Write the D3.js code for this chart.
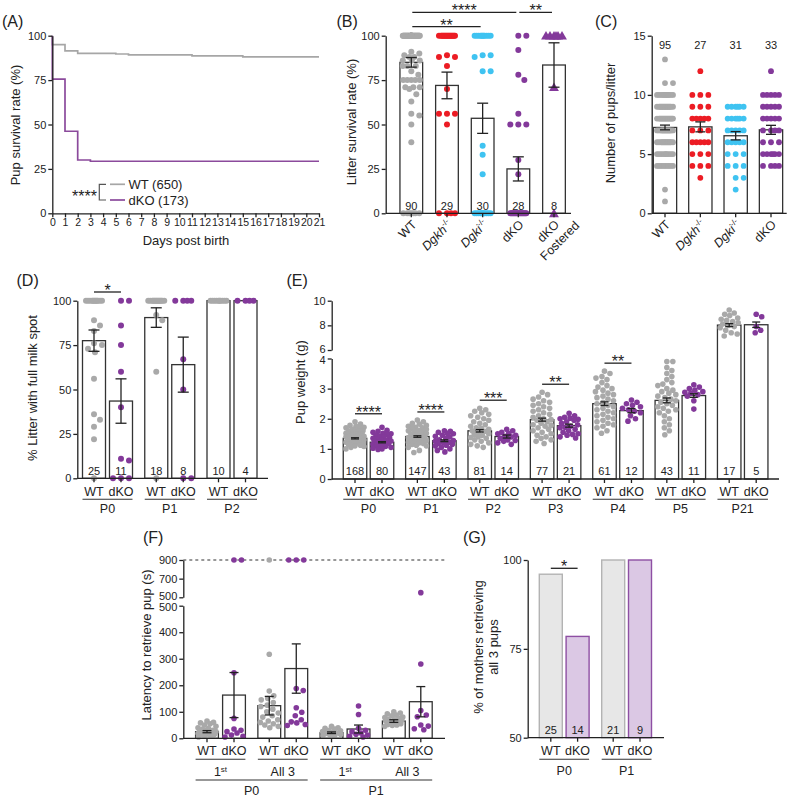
<!DOCTYPE html>
<html><head><meta charset="utf-8">
<script src="https://cdn.jsdelivr.net/npm/d3@7"></script>
<style>
body{margin:0;background:#fff}
svg{display:block}
text{font-family:"Liberation Sans",Arial,Helvetica,sans-serif;fill:#222}
</style>
</head><body>
<svg id="c" width="800" height="799"></svg>
<script>
// ================= DATA =================
// Panel A: Kaplan-Meier pup survival
const aDaysWT = [0,0,1,2,5,6,11,15,21];
const aSurvWT = [100,95,91.5,90,89.7,89.2,88.6,88.1,88.1];
const aDaysKO = [0,0,1,2,3,21];
const aSurvKO = [100,75.5,46.2,30,29.3,29.3];
const aLegend = ["WT (650)","dKO (173)"];
const aTicksY = [0,25,50,75,100];

// Panel B: litter survival rate
const bCats = ["WT","Dgkh","Dgki","dKO","dKO Fostered"];
const bMean = [85,72,53.5,25,83.5];
const bSem  = [2.7,7.5,8.5,6.8,12.5];
const bN    = [90,29,30,28,8];
const bDotsWT   = [[100,55],91,90,89,88,88,86,86,86,83,83,83,80,78,75,75,75,75,75,71,71,71,70,67,63,56,55,50,40,[0,7]];
const bDotsDgkh = [[100,16],89,88,88,83,70,56,56,56,50,[0,4]];
const bDotsDgki = [[100,11],89,89,88,80,80,38,33,22,[0,11]];
const bDotsKO   = [100,100,92,78,75,56,50,50,50,30,22,[0,17]];
const bDotsFost = [[100,6],71,0];
const bSig = [[0,3,"****",0],[0,2,"**",1],[3,4,"**",0]];

// Panel C: pups per litter
const cCats = ["WT","Dgkh","Dgki","dKO"];
const cMean = [7.25,7.3,6.55,7.05];
const cSem  = [0.2,0.42,0.35,0.38];
const cN    = [95,27,31,33];
const cDotsWT   = [[13,1],[11,2],[10,12],[9,15],[8,16],[7,14],[6,14],[5,10],[4,9],[2,1],[1,1]];
const cDotsDgkh = [[12,1],[10,3],[9,3],[8,5],[7,3],[6,5],[5,3],[4,3],[3,1]];
const cDotsDgki = [[9,6],[8,6],[7,5],[6,5],[5,3],[4,3],[3,2],[2,1]];
const cDotsKO   = [[12,1],[10,5],[9,5],[8,5],[7,4],[6,3],[5,6],[4,4]];

// Panel D: litter with full milk spot
const dGroups = ["P0","P1","P2"];
const dMeanWT = [77.5,90.5,100], dSemWT = [6,5.5,0], dNWT = [25,18,10];
const dMeanKO = [43.5,64,100],   dSemKO = [12.5,15.5,0], dNKO = [11,8,4];
const dDotsWT = [
  [[100,12],89,86,83,76,75,73,71,56,36,33,29,22,0],
  [[100,14],92,89,60,0],
  [[100,10]]
];
const dDotsKO = [
  [100,100,86,75,60,40,11,10,[0,3]],
  [[100,4],67,50,0,0],
  [[100,4]]
];
const dSig = [["P0","*"]];

// Panel E: pup weight
const eGroups = ["P0","P1","P2","P3","P4","P5","P21"];
const eMeanWT = [1.35,1.41,1.6,1.97,2.5,2.61,8.02];
const eSemWT  = [0.02,0.025,0.04,0.05,0.06,0.08,0.12];
const eMeanKO = [1.22,1.27,1.41,1.77,2.27,2.77,8.05];
const eSemKO  = [0.02,0.03,0.05,0.05,0.07,0.06,0.22];
const eNWT = [168,147,81,77,61,43,17];
const eNKO = [80,43,14,21,12,11,5];
const eDotsWT = [
  [1.9,1.82,1.78,1.75,1.72,1.7,1.68,1.65,1.62,1.6,1.6,1.58,1.55,1.55,1.52,1.5,1.5,1.48,1.45,1.45,1.42,1.4,1.4,1.38,1.36,1.35,1.33,1.3,1.3,1.28,1.25,1.25,1.22,1.2,1.2,1.18,1.15,1.12,1.1,1.08,1.05,1.0],
  [1.96,1.9,1.85,1.82,1.78,1.75,1.72,1.7,1.68,1.65,1.62,1.6,1.58,1.55,1.52,1.5,1.48,1.45,1.42,1.4,1.38,1.35,1.32,1.3,1.28,1.25,1.22,1.2,1.18,1.15,1.12,1.1,1.05,0.95,0.88],
  [2.35,2.3,2.25,2.2,2.15,2.1,2.05,2.0,1.95,1.9,1.85,1.8,1.75,1.7,1.68,1.65,1.6,1.58,1.55,1.5,1.48,1.45,1.4,1.38,1.35,1.3,1.25,1.2,1.15,1.1,1.05],
  [2.88,2.8,2.72,2.65,2.6,2.55,2.5,2.45,2.4,2.35,2.3,2.25,2.2,2.15,2.1,2.05,2.0,1.97,1.95,1.9,1.85,1.8,1.78,1.75,1.7,1.65,1.6,1.55,1.5,1.45,1.4,1.35,1.3,1.25,1.18],
  [3.58,3.5,3.4,3.35,3.3,3.2,3.1,3.05,3.0,2.95,2.9,2.85,2.8,2.75,2.7,2.65,2.6,2.55,2.5,2.45,2.4,2.35,2.3,2.25,2.2,2.15,2.1,2.05,2.0,1.95,1.9,1.85,1.8,1.75,1.7,1.6,1.52],
  [3.9,3.9,3.7,3.6,3.5,3.4,3.3,3.2,3.15,3.1,3.0,2.95,2.9,2.85,2.8,2.75,2.7,2.65,2.6,2.55,2.5,2.45,2.4,2.35,2.3,2.25,2.2,2.1,2.0,1.9,1.8,1.7,1.6,1.47],
  [9.24,9.0,8.9,8.8,8.6,8.5,8.4,8.3,8.2,8.1,8.0,7.9,7.8,7.6,7.4,7.3,7.14]
];
const eDotsKO = [
  [1.72,1.62,1.58,1.55,1.52,1.5,1.48,1.45,1.42,1.4,1.38,1.35,1.33,1.3,1.28,1.26,1.25,1.22,1.2,1.18,1.15,1.12,1.1,1.08,1.05,1.02,1.0,0.98],
  [1.6,1.58,1.55,1.52,1.5,1.45,1.42,1.4,1.35,1.3,1.28,1.25,1.22,1.2,1.18,1.15,1.12,1.1,1.05,1.0,0.95,0.9],
  [1.65,1.6,1.55,1.52,1.5,1.45,1.42,1.4,1.35,1.3,1.28,1.25,1.2,1.15],
  [2.18,2.1,2.05,2.02,2.0,1.98,1.95,1.9,1.85,1.8,1.75,1.72,1.7,1.65,1.6,1.55,1.5,1.48,1.45,1.4,1.36],
  [2.62,2.55,2.5,2.45,2.4,2.35,2.3,2.25,2.2,2.1,2.0,1.92],
  [3.13,3.05,3.0,2.95,2.9,2.88,2.85,2.8,2.75,2.6,2.32],
  [8.9,8.7,7.9,7.6,7.4]
];
const eSig = [["P0","****"],["P1","****"],["P2","***"],["P3","**"],["P4","**"]];
const eTicksLow = [0,1,2,3,4], eTicksHigh = [6,8,10];

// Panel F: latency to retrieve pup
const fSub = ["1st","All 3","1st","All 3"];
const fGroups = ["P0","P1"];
const fMeanWT = [25,123,21,65], fSemWT = [4,35,3,5];
const fMeanKO = [163,263,35,138], fSemKO = [85,93,15,57];
const fDotsWT = [
  [65,60,58,55,50,45,40,38,35,30,30,28,25,25,22,20,20,18,15,15,12,10,8,5],
  [900,317,178,160,150,145,135,125,120,110,100,95,85,80,70,65,60,55,50,45,40],
  [45,40,38,35,30,28,25,22,20,18,15,12,10,8],
  [100,95,92,88,85,80,78,75,72,70,68,65,62,60,58,55,52,50,48,45]
];
const fDotsKO = [
  [900,900,247,75,35,30,25,20,12,8,5],
  [900,900,900,188,180,115,98,85,70,62,58,52,48],
  [122,90,38,30,25,20,15,12,8,5],
  [550,280,105,88,81,50,46,36,32]
];
const fTicksLow = [0,100,200,300,400,500], fTicksHigh = [500,700,900];

// Panel G: % mothers retrieving all 3 pups
const gGroups = ["P0","P1"];
const gWT = [96,100], gKO = [78.5,100];
const gNWT = [25,21], gNKO = [14,9];
const gSig = [["P0","*"]];

// ================= DRAWING =================
const svg = d3.select("#c");
svg.append("rect").attr("width",800).attr("height",799).attr("fill","#fff");
const INK = "#222";
const COL = {WT:"#a9a9a9", Dgkh:"#ec1c24", Dgki:"#3fc3f1", dKO:"#83399a"};
const FONT = '"Liberation Sans", Arial, Helvetica, sans-serif';

function expand(arr){const o=[];arr.forEach(d=>{if(Array.isArray(d)){for(let i=0;i<d[1];i++)o.push(d[0]);}else o.push(d);});return o;}

function styleAxis(g){
  g.attr("font-family",FONT).attr("font-size",11);
  g.select(".domain").attr("stroke",INK).attr("stroke-width",1.3);
  g.selectAll(".tick line").attr("stroke",INK).attr("stroke-width",1.3);
  g.selectAll(".tick text").attr("fill",INK);
}
function yAxis(scale,ticks,x,nudge){
  const g=svg.append("g").attr("transform",`translate(${x},0)`)
    .call(d3.axisLeft(scale).tickValues(ticks).tickSize(4).tickSizeOuter(0).tickPadding(2).tickFormat(d3.format("d")));
  styleAxis(g);
  if(nudge) g.selectAll(".tick text").filter(d=>d===nudge[0]).attr("y",nudge[1]);
  return g;
}
function xBase(x0,x1,y,ticks){
  svg.append("line").attr("x1",x0).attr("x2",x1).attr("y1",y).attr("y2",y).attr("stroke",INK).attr("stroke-width",1.3);
  ticks.forEach(t=>svg.append("line").attr("x1",t).attr("x2",t).attr("y1",y).attr("y2",y+4).attr("stroke",INK).attr("stroke-width",1.3));
}
function txt(x,y,s,size,anchor){
  return svg.append("text").attr("x",x).attr("y",y).attr("text-anchor",anchor||"middle").style("font-size",(size||11)+"px").text(s);
}
function vtitle(s,x,y){
  svg.append("text").attr("transform",`translate(${x},${y}) rotate(-90)`).attr("text-anchor","middle").attr("dy","0.35em").style("font-size","13px").text(s);
}
function hline(x1,x2,y,w,col){
  svg.append("line").attr("x1",x1).attr("x2",x2).attr("y1",y).attr("y2",y).attr("stroke",col||INK).attr("stroke-width",w||1.2);
}
function sig(x1,x2,y,s){
  hline(x1,x2,y,1.3);
  txt((x1+x2)/2,y+4,s,16);
}
function bar(cx,w,yTop,y0,fill,stroke,sw){
  svg.append("rect").attr("x",cx-w/2).attr("y",yTop).attr("width",w).attr("height",Math.max(0,y0-yTop))
    .attr("fill",fill||"#fff").attr("stroke",stroke||"#333").attr("stroke-width",sw||1.3);
}
function errbar(cx,yf,m,s,cap){
  if(!s) return;
  const y1=yf(m-s), y2=yf(m+s);
  svg.append("line").attr("x1",cx).attr("x2",cx).attr("y1",y1).attr("y2",y2).attr("stroke",INK).attr("stroke-width",1.3);
  hline(cx-cap/2,cx+cap/2,y1,1.3); hline(cx-cap/2,cx+cap/2,y2,1.3);
}
function swarm(vals,yf,r,half,minD){
  const pts=vals.map(v=>({v,y:yf(v)})).sort((a,b)=>a.y-b.y);
  const cands=[0]; for(let d=0.5;d<=half+1e-9;d+=0.5){cands.push(d,-d);}
  const placed=[];
  pts.forEach(p=>{
    let best=0,bestScore=-1;
    for(const c of cands){
      let md=Infinity;
      for(const q of placed){const dy=q.y-p.y; if(Math.abs(dy)>=minD) continue; const dd=Math.hypot(q.dx-c,dy); if(dd<md) md=dd;}
      if(md>=minD){best=c;break;}
      if(md>bestScore+0.01){bestScore=md;best=c;}
    }
    p.dx=best; placed.push(p);
  });
  return pts;
}
function dots(vals,cx,yf,r,half,color,tri,gap){
  const g=(gap===undefined)?1.8:gap;
  const pts=swarm(expand(vals),yf,r,half,2*r+g);
  pts.forEach(p=>{
    if(tri) svg.append("path").attr("d",d3.symbol(d3.symbolTriangle,42)()).attr("transform",`translate(${cx+p.dx},${p.y+1})`).attr("fill",color);
    else svg.append("circle").attr("cx",cx+p.dx).attr("cy",p.y).attr("r",r).attr("fill",color);
  });
}
function panelLabel(s,x,y){txt(x,y,s,16,"start");}

// ---------- Panel A ----------
{
  const xA=d3.scaleLinear().domain([0,21]).range([52.3,319]);
  const yA=d3.scaleLinear().domain([0,100]).range([213.3,35.7]);
  const ln=d3.line().x(d=>xA(d[0])).y(d=>yA(d[1])).curve(d3.curveStepAfter);
  svg.append("path").datum(d3.zip(aDaysWT,aSurvWT)).attr("d",ln).attr("fill","none").attr("stroke","#a6a6a6").attr("stroke-width",1.7);
  svg.append("path").datum(d3.zip(aDaysKO,aSurvKO)).attr("d",ln).attr("fill","none").attr("stroke","#8b4a9c").attr("stroke-width",1.7);
  yAxis(yA,aTicksY,52.3);
  const gx=svg.append("g").attr("transform","translate(0,213.3)")
    .call(d3.axisBottom(xA).tickValues(d3.range(0,22)).tickSize(4).tickSizeOuter(0).tickPadding(1).tickFormat(d3.format("d")));
  styleAxis(gx); gx.attr("font-size",10.5);
  txt(186,244.5,"Days post birth",13);
  vtitle("Pup survival rate (%)",15,125);
  // legend
  hline(110,125,184.3,1.7,"#a6a6a6"); hline(110,125,200,1.7,"#8b4a9c");
  txt(128.5,188.8,aLegend[0],13,"start"); txt(128.5,204.5,aLegend[1],13,"start");
  svg.append("path").attr("d","M106,184.3H99.3V200H106").attr("fill","none").attr("stroke","#555").attr("stroke-width",1.2);
  txt(97,202,"****",16,"end");
  panelLabel("(A)",2,27);
}

// ---------- Panel B ----------
{
  const yB=d3.scaleLinear().domain([0,100]).range([213.3,35.7]);
  const xB=d3.scalePoint().domain(bCats).range([411.3,554]);
  const cols=[COL.WT,COL.Dgkh,COL.Dgki,COL.dKO,COL.dKO];
  const dd=[bDotsWT,bDotsDgkh,bDotsDgki,bDotsKO,bDotsFost];
  bCats.forEach((c,i)=>bar(xB(c),22.7,yB(bMean[i]),yB(0)));
  bCats.forEach((c,i)=>dots(dd[i],xB(c),yB,3,8.5,cols[i],i===4));
  bCats.forEach((c,i)=>errbar(xB(c),yB,bMean[i],bSem[i],11));
  bCats.forEach((c,i)=>txt(xB(c),209.6,bN[i],11));
  yAxis(yB,aTicksY,385.7);
  xBase(385.7,571,213.3,bCats.map(c=>xB(c)));
  const lev=[12.3,26.7];
  bSig.forEach(s=>sig(xB(bCats[s[0]])+1,xB(bCats[s[1]])-2,lev[s[3]],s[2]));
  vtitle("Litter survival rate (%)",351.7,122);
  const rl=(cx)=>svg.append("text").attr("transform",`translate(${cx+6},${225.3}) rotate(-45)`).attr("text-anchor","end").style("font-size","12.5px");
  rl(xB("WT")).text("WT");
  let t=rl(xB("Dgkh")); t.append("tspan").style("font-style","italic").text("Dgkh"); t.append("tspan").attr("dy",-5).style("font-size","8px").text("-/-");
  t=rl(xB("Dgki")); t.append("tspan").style("font-style","italic").text("Dgki"); t.append("tspan").attr("dy",-5).style("font-size","8px").text("-/-");
  rl(xB("dKO")).text("dKO");
  t=rl(xB("dKO Fostered")); t.append("tspan").attr("x",0).text("dKO"); t.append("tspan").attr("x",13.5).attr("dy",15).text("Fostered");
  panelLabel("(B)",336.5,27);
}

// ---------- Panel C ----------
{
  const yC=d3.scaleLinear().domain([0,15]).range([213.3,35.7]);
  const xC=d3.scalePoint().domain(cCats).range([665,771]);
  const cols=[COL.WT,COL.Dgkh,COL.Dgki,COL.dKO];
  const dd=[cDotsWT,cDotsDgkh,cDotsDgki,cDotsKO];
  cCats.forEach((c,i)=>bar(xC(c),23.3,yC(cMean[i]),yC(0)));
  cCats.forEach((c,i)=>dots(dd[i],xC(c),yC,2.9,8,cols[i]));
  cCats.forEach((c,i)=>errbar(xC(c),yC,cMean[i],cSem[i],10));
  cCats.forEach((c,i)=>txt(xC(c),49,cN[i],11));
  yAxis(yC,[0,5,10,15],651.7);
  xBase(651.7,786.7,213.3,cCats.map(c=>xC(c)));
  vtitle("Number of pups/litter",610.7,123);
  const rl=(cx)=>svg.append("text").attr("transform",`translate(${cx+6},${225.3}) rotate(-45)`).attr("text-anchor","end").style("font-size","12.5px");
  rl(xC("WT")).text("WT");
  let t=rl(xC("Dgkh")); t.append("tspan").style("font-style","italic").text("Dgkh"); t.append("tspan").attr("dy",-5).style("font-size","8px").text("-/-");
  t=rl(xC("Dgki")); t.append("tspan").style("font-style","italic").text("Dgki"); t.append("tspan").attr("dy",-5).style("font-size","8px").text("-/-");
  rl(xC("dKO")).text("dKO");
  panelLabel("(C)",595,27);
}

// ---------- Panel D ----------
{
  const yD=d3.scaleLinear().domain([0,100]).range([478.3,300.7]);
  const xD=d3.scalePoint().domain(dGroups).range([107.5,232]);
  const off=13.5, bw=23;
  const ticks=[];
  dGroups.forEach((g,i)=>{
    const cw=xD(g)-off, ck=xD(g)+off; ticks.push(cw,ck);
    bar(cw,bw,yD(dMeanWT[i]),yD(0)); bar(ck,bw,yD(dMeanKO[i]),yD(0));
  });
  dGroups.forEach((g,i)=>{
    dots(dDotsWT[i],xD(g)-off,yD,3,8.5,COL.WT);
    dots(dDotsKO[i],xD(g)+off,yD,3,8.5,COL.dKO);
  });
  dGroups.forEach((g,i)=>{
    errbar(xD(g)-off,yD,dMeanWT[i],dSemWT[i],11);
    errbar(xD(g)+off,yD,dMeanKO[i],dSemKO[i],11);
    txt(xD(g)-off,474.6,dNWT[i],11); txt(xD(g)+off,474.6,dNKO[i],11);
    txt(xD(g)-off,495.5,"WT",12.5); txt(xD(g)+off,495.5,"dKO",12.5);
    hline(xD(g)-off-bw/2,xD(g)+off+bw/2,499.3,1.1,"#333");
    txt(xD(g),513,g,12.5);
  });
  yAxis(yD,aTicksY,77.3);
  xBase(77.3,268,478.3,ticks);
  dSig.forEach(s=>sig(xD(s[0])-off,xD(s[0])+off,292,s[1]));
  vtitle("% Litter with full milk spot",32.3,388);
  panelLabel("(D)",16.5,286);
}

// ---------- Panel E ----------
{
  const yLow=d3.scaleLinear().domain([0,4]).range([479,358.5]);
  const yHigh=d3.scaleLinear().domain([6,10]).range([350,300.7]);
  const yE=v=>v<=5?yLow(v):yHigh(v);
  const xE=d3.scalePoint().domain(eGroups).range([368.5,742.7]);
  const off=13.5, bw=23.5;
  const ticks=[];
  eGroups.forEach((g,i)=>{
    ticks.push(xE(g)-off,xE(g)+off);
    bar(xE(g)-off,bw,yE(eMeanWT[i]),yE(0)); bar(xE(g)+off,bw,yE(eMeanKO[i]),yE(0));
  });
  eGroups.forEach((g,i)=>{
    dots(eDotsWT[i],xE(g)-off,yE,2.8,9,COL.WT,false,0.2);
    dots(eDotsKO[i],xE(g)+off,yE,2.8,9,COL.dKO,false,0.2);
  });
  eGroups.forEach((g,i)=>{
    errbar(xE(g)-off,yE,eMeanWT[i],eSemWT[i],8);
    errbar(xE(g)+off,yE,eMeanKO[i],eSemKO[i],8);
    txt(xE(g)-off,474.7,eNWT[i],11); txt(xE(g)+off,474.7,eNKO[i],11);
    txt(xE(g)-off,495.5,"WT",12.5); txt(xE(g)+off,495.5,"dKO",12.5);
    hline(xE(g)-off-bw/2,xE(g)+off+bw/2,499.3,1.1,"#333");
    txt(xE(g),513,g,12.5);
  });
  yAxis(yLow,eTicksLow,331.7,[4,1.5]);
  yAxis(yHigh,eTicksHigh,331.7,[6,-1.5]);
  xBase(331.7,779,479,ticks);
  eSig.forEach(s=>{
    const i=eGroups.indexOf(s[0]);
    const top=Math.max(d3.max(expand(eDotsWT[i])),d3.max(expand(eDotsKO[i])));
    sig(xE(s[0])-off,xE(s[0])+off,yE(top)-8,s[1]);
  });
  vtitle("Pup weight (g)",300,382);
  panelLabel("(E)",286.5,286);
}

// ---------- Panel F ----------
{
  const yLow=d3.scaleLinear().domain([0,500]).range([738.3,605.7]);
  const yHigh=d3.scaleLinear().domain([500,900]).range([597.3,560]);
  const yF=v=>v<=500?yLow(v):yHigh(v);
  const idx=d3.range(fSub.length);
  const xF=d3.scalePoint().domain(idx).range([220.5,407.3]);
  const off=13.5, bw=22.8;
  const ticks=[];
  idx.forEach(i=>{
    ticks.push(xF(i)-off,xF(i)+off);
    bar(xF(i)-off,bw,yF(fMeanWT[i]),yF(0)); bar(xF(i)+off,bw,yF(fMeanKO[i]),yF(0));
  });
  svg.append("line").attr("x1",183.3).attr("x2",445).attr("y1",yF(900)).attr("y2",yF(900))
    .attr("stroke","#333").attr("stroke-width",1.1).attr("stroke-dasharray","3,3");
  idx.forEach(i=>{
    dots(fDotsWT[i],xF(i)-off,yF,2.8,9,COL.WT,false,0.8);
    dots(fDotsKO[i],xF(i)+off,yF,2.8,9,COL.dKO,false,1.5);
  });
  idx.forEach(i=>{
    errbar(xF(i)-off,yF,fMeanWT[i],fSemWT[i],9);
    errbar(xF(i)+off,yF,fMeanKO[i],fSemKO[i],9);
    txt(xF(i)-off,754.5,"WT",12.5); txt(xF(i)+off,754.5,"dKO",12.5);
    hline(xF(i)-off-bw/2,xF(i)+off+bw/2,759.3,1.1,"#333");
    const s=fSub[i];
    if(s==="1st"){
      const t=txt(xF(i),776,"",12.5); t.append("tspan").text("1"); t.append("tspan").attr("dy",-4).style("font-size","8px").text("st");
    } else txt(xF(i),776,s,12.5);
  });
  fGroups.forEach((g,k)=>{
    const a=xF(2*k)-off-bw/2, b=xF(2*k+1)+off+bw/2;
    hline(a,b,780,1.1,"#333");
    txt((a+b)/2,795,g,12.5);
  });
  yAxis(yLow,fTicksLow,183.3,[500,1.6]);
  yAxis(yHigh,fTicksHigh,183.3,[500,-1.6]);
  xBase(183.3,445,738.3,ticks);
  vtitle("Latency to retrieve pup (s)",146.7,645);
  panelLabel("(F)",143,543);
}

// ---------- Panel G ----------
{
  const yG=d3.scaleLinear().domain([50,100]).range([737.7,560]);
  const xG=d3.scalePoint().domain(gGroups).range([564.2,626.6]);
  const off=13.4, bw=23;
  const ticks=[];
  gGroups.forEach((g,i)=>{
    ticks.push(xG(g)-off,xG(g)+off);
    bar(xG(g)-off,bw,yG(gWT[i]),yG(50),"#e7e7e7","#b3b3b3",1.4);
    bar(xG(g)+off,bw,yG(gKO[i]),yG(50),"#dbc8e4","#8e4fa3",1.4);
    txt(xG(g)-off,734,gNWT[i],11); txt(xG(g)+off,734,gNKO[i],11);
    txt(xG(g)-off,755,"WT",12.5); txt(xG(g)+off,755,"dKO",12.5);
    hline(xG(g)-off-bw/2,xG(g)+off+bw/2,759.3,1.1,"#333");
    txt(xG(g),775,g,12.5);
  });
  yAxis(yG,[50,75,100],527.7);
  xBase(527.7,664,737.7,ticks);
  gSig.forEach(s=>sig(xG(s[0])-off,xG(s[0])+off,568.3,s[1]));
  vtitle("% of mothers retrieving",478.3,647);
  vtitle("all 3 pups",493.3,647);
  panelLabel("(G)",463,543);
}
</script>
</body></html>
